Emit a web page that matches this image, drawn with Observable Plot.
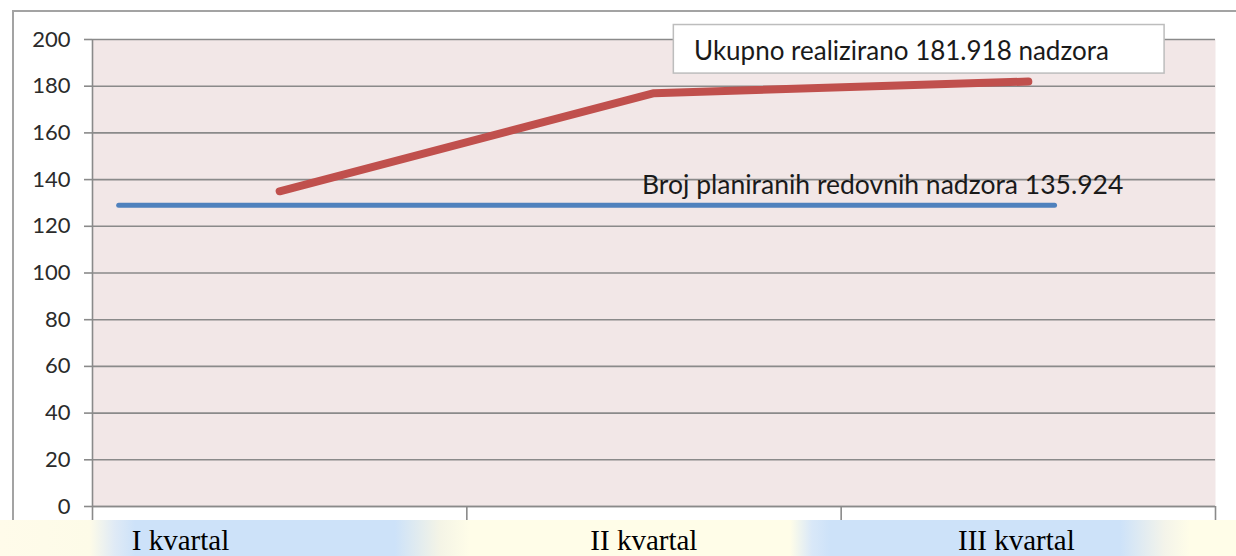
<!DOCTYPE html>
<html>
<head>
<meta charset="utf-8">
<script src="https://cdn.jsdelivr.net/npm/d3@7"></script>
<script src="https://cdn.jsdelivr.net/npm/@observablehq/plot@0.6"></script>
<style>
  html, body { margin: 0; padding: 0; background: #ffffff; overflow: hidden; }
  #wrap { position: relative; width: 1236px; height: 556px; overflow: hidden; }
  #band {
    position: absolute; left: 0; top: 520px; width: 1236px; height: 36px;
    background: linear-gradient(90deg,
      #fffbea 0px, #fdfbe8 90px, #dfeaf6 115px, #cde2f9 135px, #cde2f9 395px,
      #f4f4e6 440px, #fffde8 470px, #fffde8 790px, #d9e8f8 812px, #cde2f9 830px,
      #cde2f9 1120px, #f4f4ea 1165px, #fffde8 1190px, #fffde8 1236px);
  }
  #frame {
    position: absolute; left: 12px; top: 10px; width: 1240px; height: 510px;
    border-top: 2px solid #a3a3a3; border-left: 2px solid #a3a3a3; box-sizing: border-box;
  }
  #plot { position: absolute; left: 0; top: 0; }
  #plot path[stroke="#c0504d"], #plot path[stroke="#4f81bd"] { filter: drop-shadow(1px 3px 2px rgba(0,0,0,0.25)); }
</style>
</head>
<body>
<div id="wrap">
  <div id="band"></div>
  <div id="frame"></div>
  <div id="plot"></div>
</div>
<script>
// ---- data ----
const categories = ["I kvartal", "II kvartal", "III kvartal"];
const categoryPos = [1, 2, 3];
const realized = [135, 177, 182];          // Ukupno realizirano (red)
const plannedX = [0.57, 3.07];             // extent of the planned line (category units)
const plannedY = [129, 129];               // Broj planiranih redovnih nadzora (blue)
const yTicks = [0, 20, 40, 60, 80, 100, 120, 140, 160, 180, 200];
const separators = [0.5, 1.5, 2.5, 3.5];
const labelX = [0.735, 1.973, 2.968];      // category label positions under the axis
const realizedNote = "Ukupno realizirano 181.918 nadzora";
const plannedNote = "Broj planiranih redovnih nadzora 135.924";
const realizedBox = {x1: 2.053, x2: 3.364, y1: 185.4, y2: 206.2};
const realizedNotePos = {x: 2.107, y: 191.4};
const plannedNotePos = {x: 1.968, y: 134};

const redData = categoryPos.map((x, i) => ({x, y: realized[i]}));
const blueData = plannedX.map((x, i) => ({x, y: plannedY[i]}));
const catData = categories.map((c, i) => ({c, x: labelX[i]}));

const sans = "Lato, 'Open Sans', sans-serif";

const chart = Plot.plot({
  width: 1236,
  height: 556,
  marginLeft: 92,
  marginRight: 21,
  marginTop: 39,
  marginBottom: 50,
  style: {background: "transparent", fontFamily: sans, overflow: "visible"},
  x: {domain: [0.5, 3.5], axis: null},
  y: {domain: [0, 200], axis: null},
  marks: [
    Plot.frame({fill: "#f2e7e7", stroke: null}),
    Plot.gridY(yTicks, {stroke: "#8a8a8a", strokeOpacity: 1, strokeWidth: 1.6}),
    Plot.axisY(yTicks, {tickSize: 8, tickPadding: 14, fontSize: 22, stroke: "#8a8a8a", fill: "#2b2b2b", strokeWidth: 1.6}),
    Plot.axisX(separators, {tickSize: 14, tickFormat: () => "", stroke: "#8a8a8a", strokeWidth: 1.6}),
    Plot.ruleX([0.5], {y1: 0, y2: 200, stroke: "#8a8a8a", strokeWidth: 1.6}),
    Plot.ruleY([0], {stroke: "#8a8a8a", strokeWidth: 1.6}),
    Plot.line(blueData, {x: "x", y: "y", stroke: "#4f81bd", strokeWidth: 5}),
    Plot.line(redData, {x: "x", y: "y", stroke: "#c0504d", strokeWidth: 8, strokeLinecap: "round"}),
    Plot.rect([realizedBox], {x1: "x1", x2: "x2", y1: "y1", y2: "y2", fill: "white", stroke: "#bdbdbd", strokeWidth: 1.5}),
    Plot.text([realizedNote], {x: realizedNotePos.x, y: realizedNotePos.y, text: d => d, textAnchor: "start", lineAnchor: "bottom", fontSize: 26, fill: "#1a1a1a"}),
    Plot.text([plannedNote], {x: plannedNotePos.x, y: plannedNotePos.y, text: d => d, textAnchor: "start", lineAnchor: "bottom", fontSize: 26.5, fill: "#1a1a1a"}),
    Plot.text(catData, {x: "x", text: "c", frameAnchor: "bottom", lineAnchor: "bottom", dy: 43, fontSize: 29, fontFamily: "'Liberation Serif', 'Times New Roman', serif", fill: "#000"})
  ]
});
document.getElementById("plot").appendChild(chart);
</script>
</body>
</html>
